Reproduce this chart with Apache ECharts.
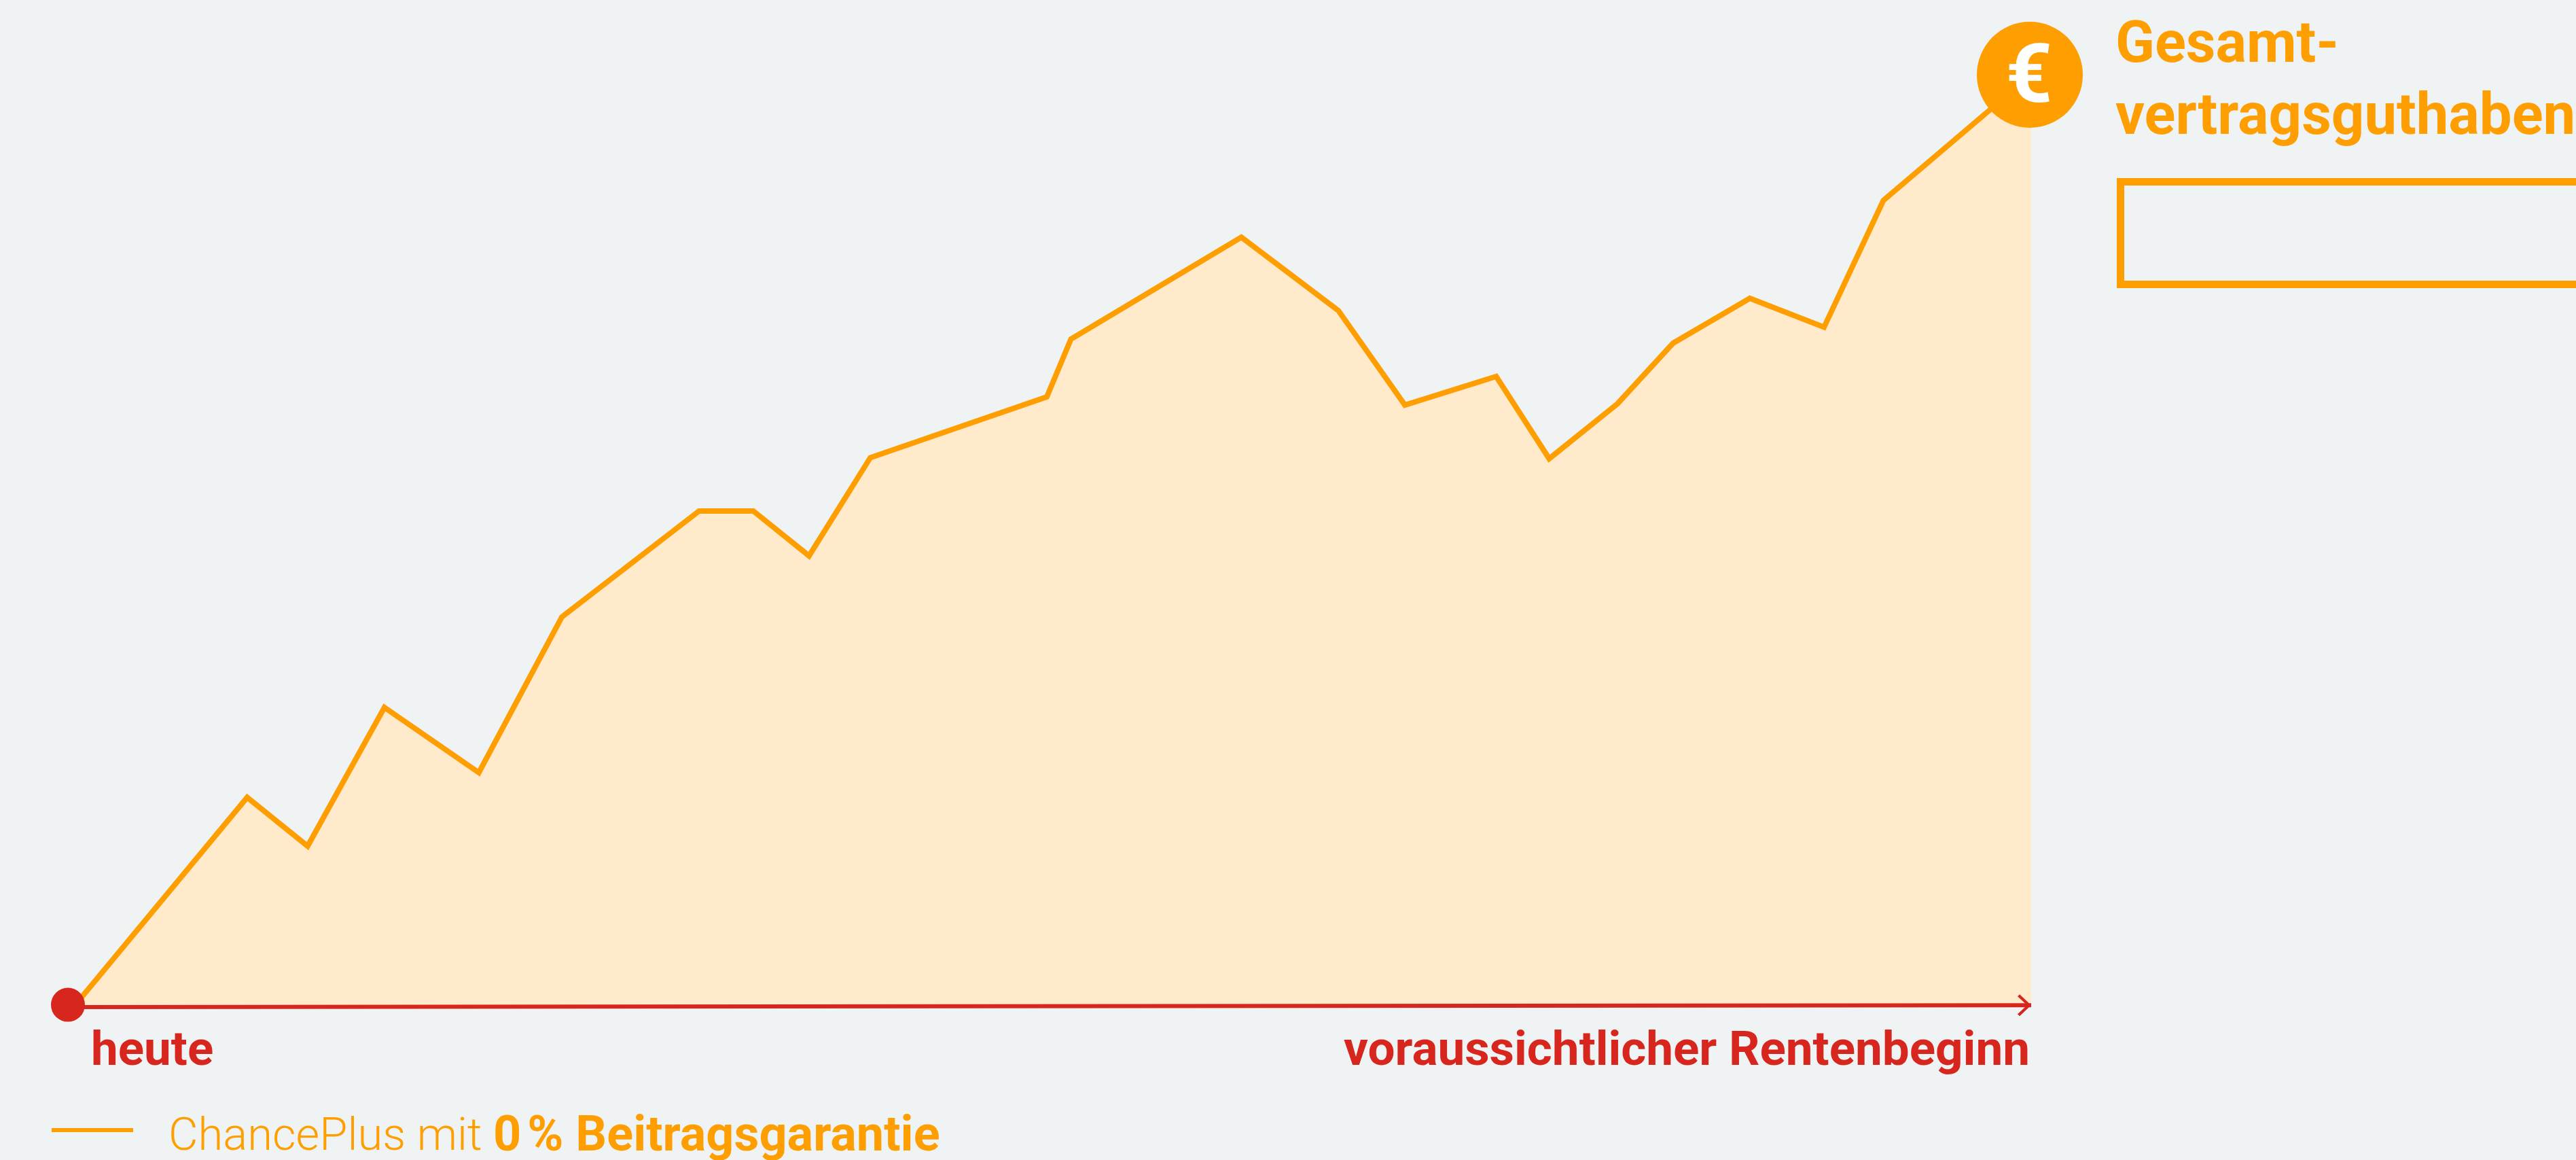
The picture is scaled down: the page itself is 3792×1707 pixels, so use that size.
<!DOCTYPE html>
<html>
<head>
<meta charset="utf-8">
<title>Gesamtvertragsguthaben</title>
<style>
  html, body { margin: 0; padding: 0; background: #eff3f4; }
  #chart { width: 3792px; height: 1707px; }
</style>
<script src="https://cdn.jsdelivr.net/npm/echarts@6/dist/echarts.min.js"></script>
</head>
<body>
<div id="chart"></div>
<script>
// Zeitachse und Guthaben, beides in Prozent vom Endwert
const timeValues = [0.28, 9.13, 12.21, 16.12, 20.93, 25.16, 32.15, 34.91, 37.75, 40.87, 49.86, 51.09, 59.77, 64.71, 68.1, 72.75, 75.45, 78.93, 81.76, 85.67, 89.45, 92.47, 100]
const balanceValues = [0, 22.49, 17.27, 32.14, 25.15, 41.84, 53.21, 53.21, 48.4, 58.93, 65.45, 71.65, 82.58, 74.71, 64.58, 67.64, 58.82, 64.72, 71.21, 76.02, 72.92, 86.52, 100]
const axisTimes = [0, 100]
const axisValues = [0, 0.2]
const startLabel = 'heute'
const endLabel = 'voraussichtlicher Rentenbeginn'
const titleLines = ['Gesamt-', 'vertragsguthaben']
const seriesName = 'ChancePlus mit '
const seriesNameBold = '0\u202f% Beitragsgarantie'

const ORANGE = '#ff9e00'
const RED = '#d7261e'
const FONT = 'Roboto, "Noto Sans", sans-serif'

const lineData = timeValues.map((t, i) => [t, balanceValues[i]])
const axisData = axisTimes.map((t, i) => [t, axisValues[i]])

const boldText = (text, x, y, size, fill, align) => ({
  type: 'text',
  silent: true,
  style: {
    text, x, y, fill,
    align: align || 'left',
    verticalAlign: 'middle',
    fontFamily: FONT,
    fontWeight: 700,
    fontSize: size,
  },
})

const option = {
  animation: false,
  backgroundColor: '#eff3f4',
  grid: { left: 100, top: 110, width: 2890, height: 1372 },
  xAxis: { type: 'value', min: 0, max: 100, show: false },
  yAxis: { type: 'value', min: 0, max: 100, show: false },
  series: [
    {
      name: 'ChancePlus',
      type: 'line',
      data: lineData,
      clip: false,
      showSymbol: false,
      lineStyle: { color: ORANGE, width: 8, join: 'miter' },
      areaStyle: { color: '#ffeacc', opacity: 1 },
      z: 2,
    },
    {
      // Zeitachse mit offener Pfeilspitze
      name: 'Achse',
      type: 'line',
      data: axisData.map((d, i) => ({
        value: d,
        symbol: i === 1 ? 'path://M0 3L3 0L20 16L3 32L0 29L14 16Z' : 'none',
        symbolSize: [20, 32],
        symbolOffset: [-10, 0],
      })),
      clip: false,
      showAllSymbol: true,
      itemStyle: { color: RED },
      lineStyle: { color: RED, width: 6 },
      z: 3,
    },
    {
      name: 'Start',
      type: 'scatter',
      data: [[axisTimes[0], 0.25]],
      clip: false,
      symbolSize: 50,
      itemStyle: { color: RED, opacity: 1 },
      z: 4,
    },
    {
      name: 'Ende',
      type: 'scatter',
      data: [[timeValues[timeValues.length - 1], balanceValues[balanceValues.length - 1]]],
      clip: false,
      symbolSize: 156,
      symbolOffset: [-2, 0],
      itemStyle: { color: ORANGE, opacity: 1 },
      label: {
        show: true,
        position: 'inside',
        offset: [-1, 10],
        formatter: '€',
        color: '#fff',
        fontFamily: FONT,
        fontWeight: 700,
        fontSize: 120,
      },
      z: 4,
    },
  ],
  graphic: [
    boldText(titleLines[0], 3114, 70, 85, ORANGE),
    boldText(titleLines[1], 3114, 176, 85, ORANGE),
    {
      type: 'rect',
      silent: true,
      shape: { x: 3121.5, y: 267.5, width: 800, height: 151 },
      style: { fill: 'none', stroke: ORANGE, lineWidth: 11 },
    },
    boldText(startLabel, 134, 1549, 71, RED),
    boldText(endLabel, 2988, 1549, 71, RED, 'right'),
    {
      type: 'line',
      silent: true,
      shape: { x1: 76, y1: 1663, x2: 196, y2: 1663 },
      style: { stroke: ORANGE, lineWidth: 6 },
    },
    {
      type: 'text',
      silent: true,
      style: {
        x: 248,
        y: 1675,
        verticalAlign: 'middle',
        text: '{l|' + seriesName + '}{b|' + seriesNameBold + '}',
        rich: {
          l: { fontFamily: FONT, fontWeight: 300, fontSize: 67, fill: ORANGE },
          b: { fontFamily: FONT, fontWeight: 700, fontSize: 72, fill: ORANGE },
        },
      },
    },
  ],
}

const myChart = echarts.init(document.getElementById('chart'))
myChart.setOption(option)
window.addEventListener('resize', () => myChart.resize())
</script>
</body>
</html>
